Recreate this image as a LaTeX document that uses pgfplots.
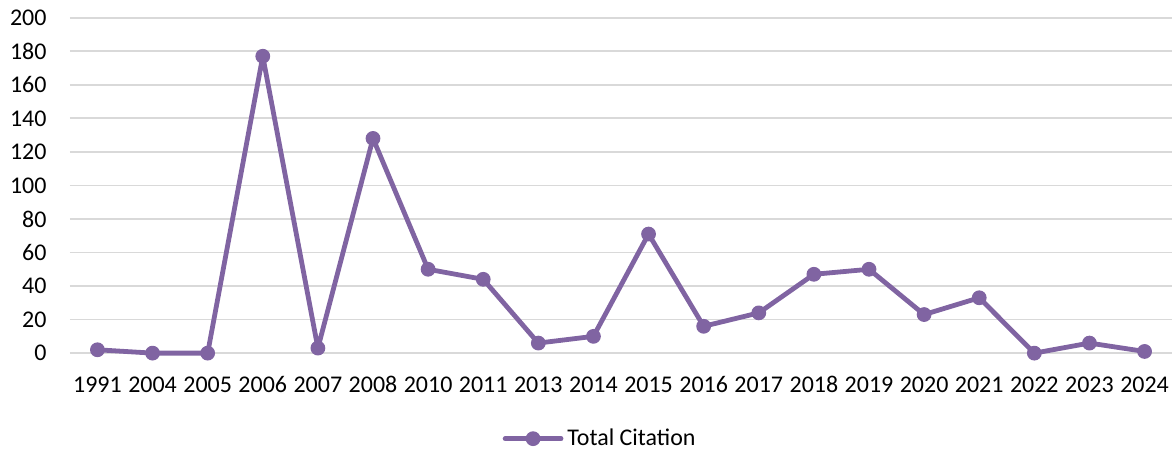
\documentclass[border=0pt]{standalone}
\usepackage{fontspec}
\setmainfont{Carlito}
\usepackage{pgfplots}
\pgfplotsset{compat=1.18}
\definecolor{lineP}{HTML}{8064A2}
\definecolor{gridG}{HTML}{D9D9D9}
\begin{document}
\fontsize{12}{14.4}\selectfont
\begin{tikzpicture}
\begin{axis}[
  scale only axis,
  width=552pt, height=168pt,
  xmin=-0.5, xmax=19.5,
  ymin=0, ymax=200,
  ytick={0,20,...,200},
  xtick={0,...,19},
  xticklabels={1991,2004,2005,2006,2007,2008,2010,2011,2013,2014,2015,2016,2017,2018,2019,2020,2021,2022,2023,2024},
  /pgf/number format/assume math mode=true,
  tick label style={font=\fontsize{12}{14.4}\selectfont, inner sep=0pt},
  yticklabel style={anchor=east, xshift=-11.5pt},
  xticklabel style={anchor=base, yshift=-19.7pt},
  axis line style={draw=none},
  major tick length=0pt,
  ymajorgrids,
  grid style={gridG, line width=0.9pt},
  clip=false,
  legend style={at={(rel axis cs:0.482,-0.255)}, anchor=center, draw=none, fill=none,
    font=\fontsize{12}{14.4}\selectfont, inner sep=0pt},
  legend image code/.code={\draw[mark repeat=2,mark phase=2,#1] plot coordinates {(0pt,0pt)(14pt,0pt)(28pt,0pt)};},
  legend cell align=left,
]
\addplot[color=lineP, line width=2.4pt, line cap=round, line join=round, mark=*, mark size=3.4pt, mark options={solid, fill=lineP, draw=lineP, line width=0.6pt}]
  coordinates {
  (0,2) (1,0) (2,0) (3,177) (4,3) (5,128) (6,50) (7,44) (8,6) (9,10)
  (10,71) (11,16) (12,24) (13,47) (14,50) (15,23) (16,33) (17,0) (18,6) (19,1)
  };
\addlegendentry{Total Citation}
\coordinate (bl) at (rel axis cs:0,0);
\coordinate (tr) at (rel axis cs:1,1);
\end{axis}
\path ([xshift=-35pt,yshift=-47.15pt]bl) rectangle ([xshift=-0.5pt,yshift=8.85pt]tr);
\end{tikzpicture}
\end{document}
